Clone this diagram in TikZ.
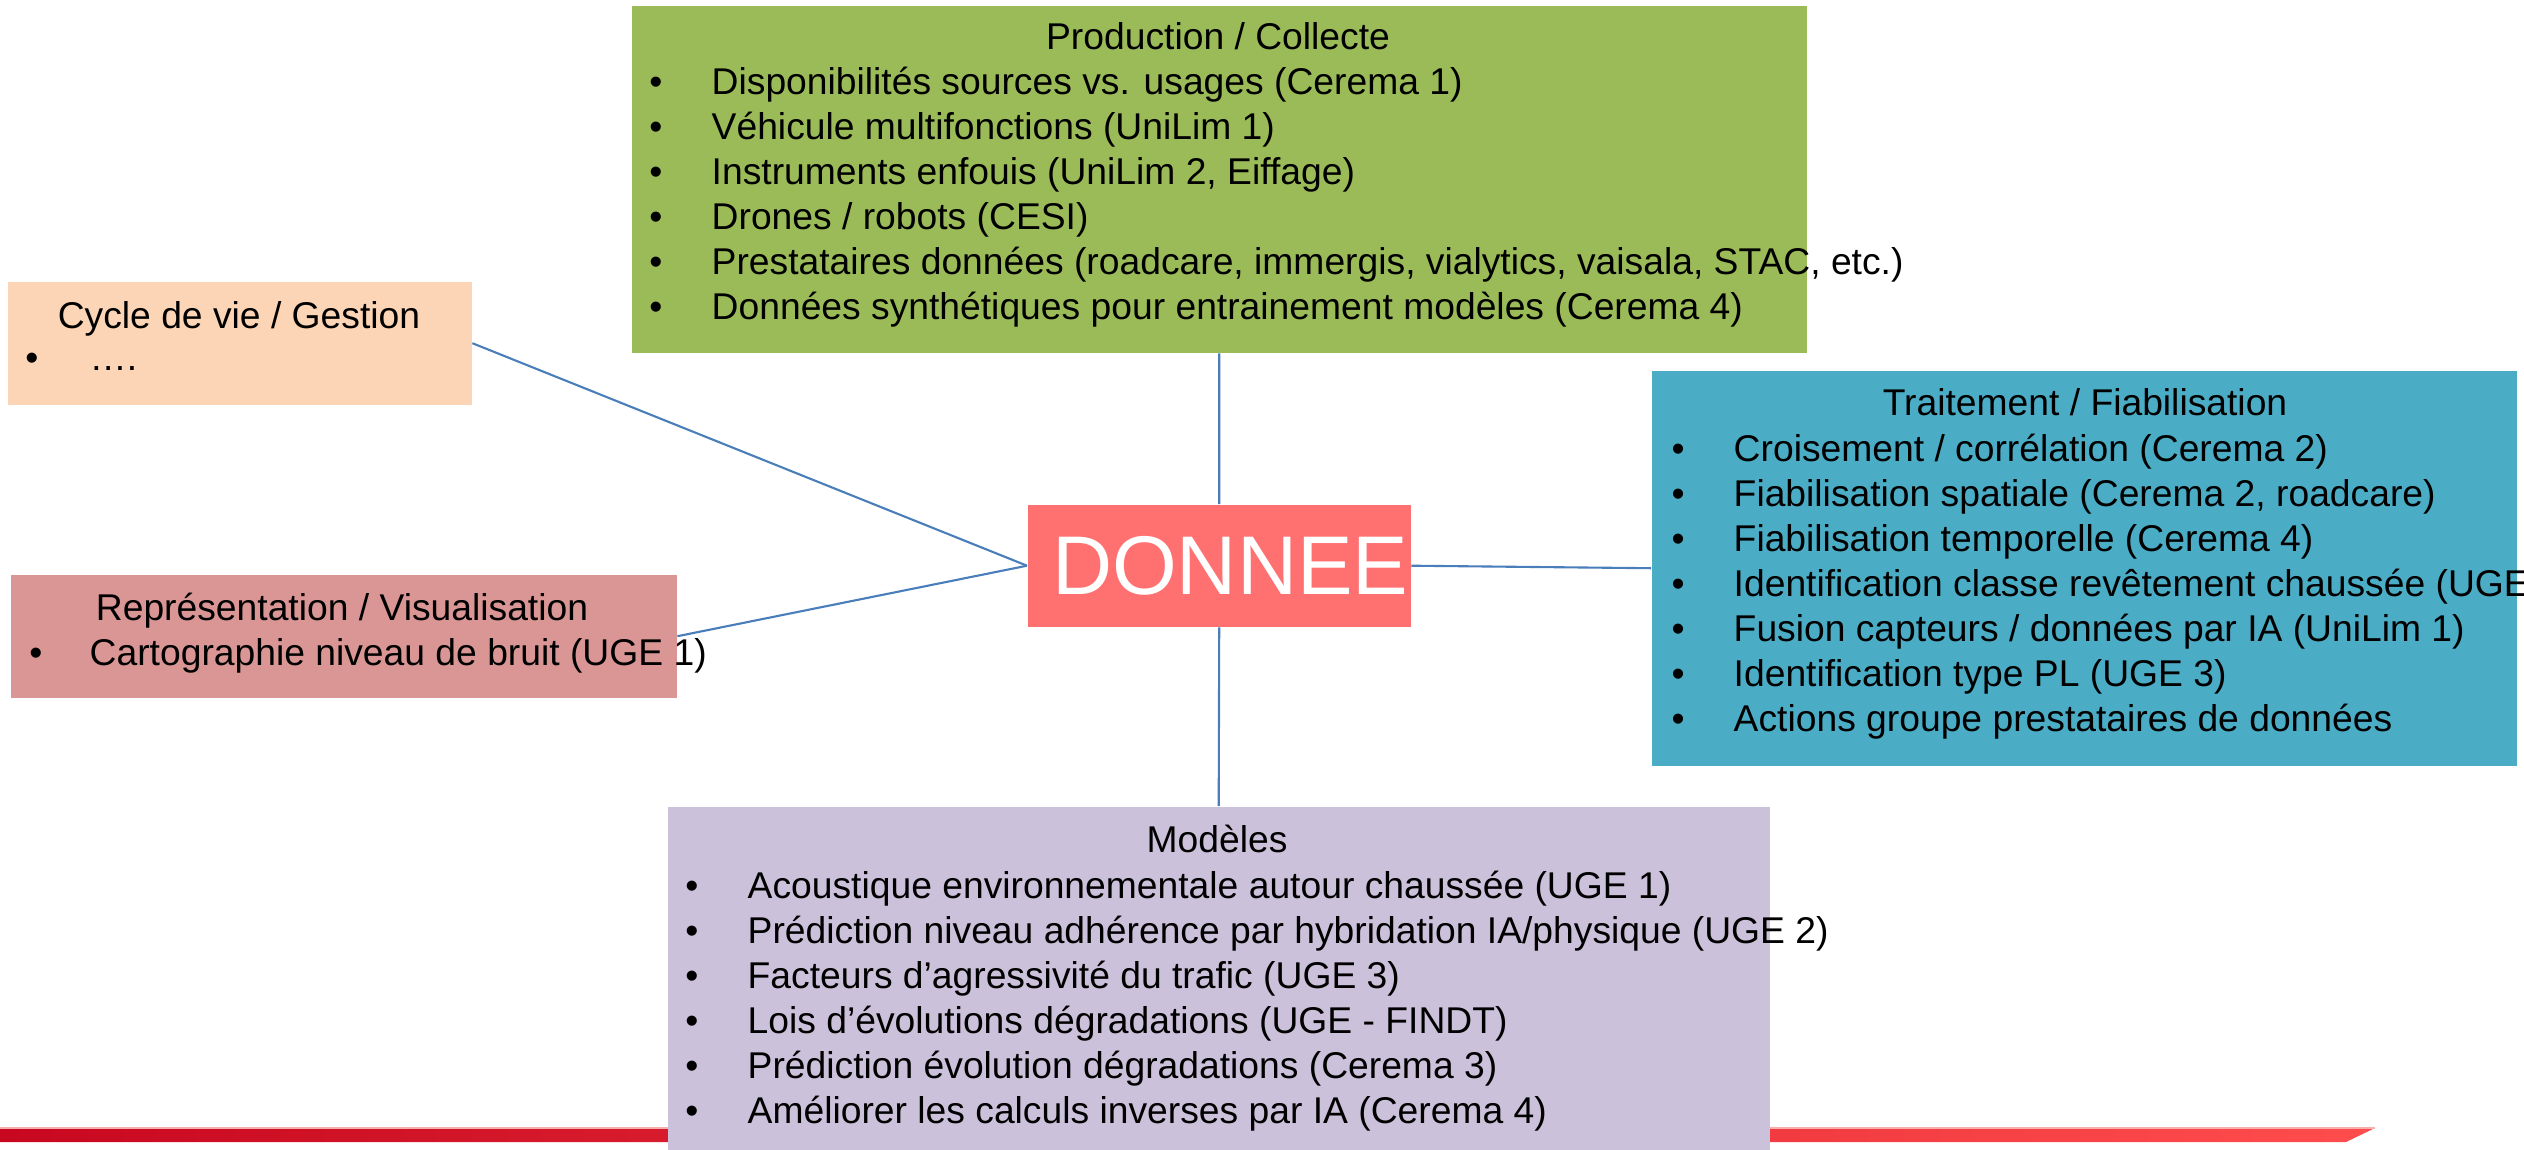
\documentclass[tikz,border=0pt]{standalone}
\usepackage{fontspec}
\setmainfont{Liberation Sans}
\usetikzlibrary{positioning}
\definecolor{prodgreen}{RGB}{155,187,89}
\definecolor{traitblue}{RGB}{75,172,198}
\definecolor{modlilac}{RGB}{204,193,218}
\definecolor{cyclepeach}{RGB}{251,213,181}
\definecolor{reprrose}{RGB}{217,150,148}
\definecolor{donneered}{RGB}{255,113,113}
\definecolor{linkblue}{RGB}{74,126,187}
\definecolor{barleft}{RGB}{200,8,32}
\definecolor{barright}{RGB}{255,76,76}
\definecolor{barlight}{RGB}{245,175,175}

\tikzset{
  box/.style={rectangle, anchor=north west, inner sep=0pt},
  head/.style={anchor=base, inner sep=0pt},
  dot/.style={anchor=base, inner sep=0pt},
  entry/.style={anchor=base west, inner sep=0pt},
  link/.style={draw=linkblue, line width=0.6pt},
}
% #1 name, #2 bullet x, #3 text x, #4 first baseline, #5 entries
\newcommand\bulletlist[5]{%
  \foreach \t [count=\i] in {#5}
    {\node[dot] (#1b\i) at (#2,{-(#4+0.45*(\i-1))}) {\textbullet};
     \node[entry] (#1t\i) at (#3,{-(#4+0.45*(\i-1))}) {\t};}
}

\begin{document}
\begin{tikzpicture}[font=\fontsize{10.6}{12.8}\selectfont]
  \useasboundingbox (0,0) rectangle (25.24,-11.49);

  % bande du bas
  \shade[left color=barleft, right color=barright] (0,-11.28) -- (23.75,-11.28) -- (23.46,-11.42) -- (0,-11.42) -- cycle;
  \draw[barlight, line width=0.4pt] (0,-11.28) -- (23.75,-11.28);

  \node[box, fill=prodgreen, minimum width=11.75cm, minimum height=3.47cm] (prod) at (6.31,-0.05) {};
  \node[box, fill=traitblue, minimum width=8.65cm, minimum height=3.95cm] (trait) at (16.51,-3.70) {};
  \node[box, fill=modlilac, minimum width=11.02cm, minimum height=3.43cm] (models) at (6.67,-8.06) {};
  \node[box, fill=cyclepeach, minimum width=4.64cm, minimum height=1.23cm] (cycle) at (0.07,-2.81) {};
  \node[box, fill=reprrose, minimum width=6.66cm, minimum height=1.23cm] (repr) at (0.10,-5.74) {};
  \node[box, fill=donneered, minimum width=3.83cm, minimum height=1.22cm, text=white,
        font=\fontsize{23.7}{28}\selectfont] (donnee) at (10.27,-5.04) {\hspace*{0.22cm}DONNEE};

  \draw[link] (prod.south) -- (donnee.north);
  \draw[link] (donnee.south) -- (models.north);
  \draw[link] (donnee.east) -- (trait.west);
  \draw[link] (cycle.east) -- (donnee.west);
  \draw[link] (repr.east) -- (donnee.west);

  \node[head] (prodhead) at (12.18,-0.50) {Production / Collecte};
  \bulletlist{prod}{6.56}{7.11}{0.95}{
    Disponibilités sources vs. usages (Cerema 1),
    Véhicule multifonctions (UniLim 1),
    {Instruments enfouis (UniLim 2, Eiffage)},
    Drones / robots (CESI),
    {Prestataires données (roadcare, immergis, vialytics, vaisala, STAC, etc.)},
    Données synthétiques pour entrainement modèles (Cerema 4)}

  \node[head] (traithead) at (20.85,-4.15) {Traitement / Fiabilisation};
  \bulletlist{trait}{16.78}{17.33}{4.61}{
    Croisement / corrélation (Cerema 2),
    {Fiabilisation spatiale (Cerema 2, roadcare)},
    Fiabilisation temporelle (Cerema 4),
    Identification classe revêtement chaussée (UGE,
    Fusion capteurs / données par IA (UniLim 1),
    Identification type PL (UGE 3),
    Actions groupe prestataires de données}

  \node[head] (modhead) at (12.17,-8.52) {Modèles};
  \bulletlist{mod}{6.92}{7.47}{8.98}{
    Acoustique environnementale autour chaussée (UGE 1),
    Prédiction niveau adhérence par hybridation IA/physique (UGE 2),
    Facteurs d’agressivité du trafic (UGE 3),
    Lois d’évolutions dégradations (UGE - FINDT),
    Prédiction évolution dégradations (Cerema 3),
    Améliorer les calculs inverses par IA (Cerema 4)}

  \node[head] (cyclehead) at (2.39,-3.28) {Cycle de vie / Gestion};
  \bulletlist{cycle}{0.32}{0.89}{3.70}{….}

  \node[head] (reprhead) at (3.42,-6.20) {Représentation / Visualisation};
  \bulletlist{repr}{0.36}{0.89}{6.65}{Cartographie niveau de bruit (UGE 1)}
\end{tikzpicture}
\end{document}
